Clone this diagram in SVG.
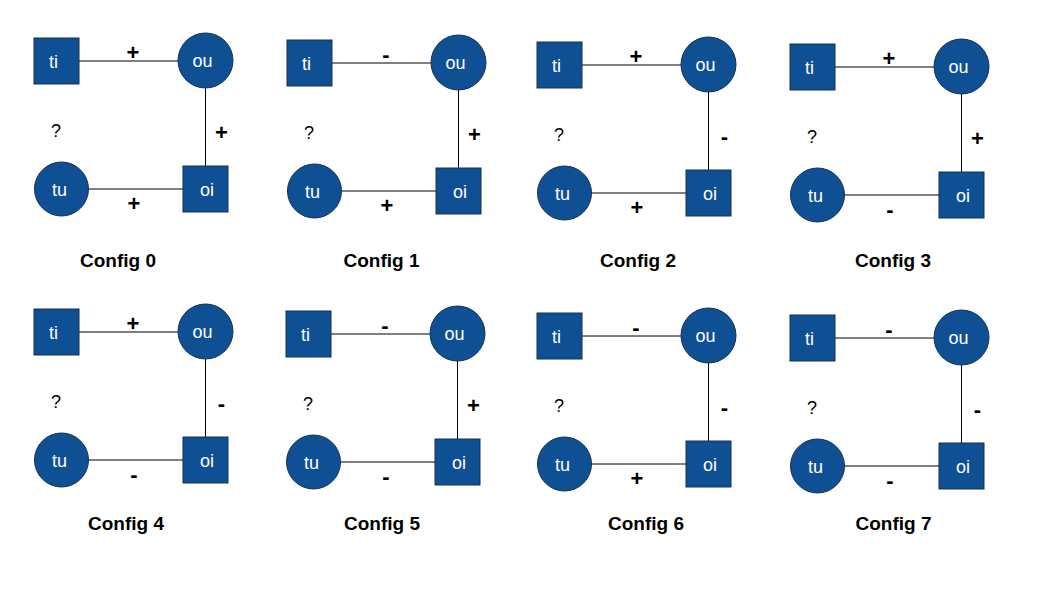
<svg xmlns="http://www.w3.org/2000/svg" width="1047" height="590" viewBox="0 0 1047 590">
<style>
.node{fill:#0f5095;stroke:#14304f;stroke-width:1}
.lbl{font-family:"Liberation Sans",Arial,sans-serif;font-size:18px;fill:#ffffff;text-anchor:middle}
.edge{stroke:#000000;stroke-width:1;fill:none}
.sign{font-family:"Liberation Sans",Arial,sans-serif;font-size:22px;font-weight:bold;fill:#000000;text-anchor:middle}
.q{font-family:"Liberation Sans",Arial,sans-serif;font-size:18px;fill:#000000;text-anchor:middle}
.title{font-family:"Liberation Sans",Arial,sans-serif;font-size:19px;font-weight:bold;fill:#000000;text-anchor:middle}
</style>
<defs>
<g id="edges">
<line class="edge" x1="45" y1="23" x2="144" y2="23"/>
<line class="edge" x1="171.5" y1="50" x2="171.5" y2="128"/>
<line class="edge" x1="54.5" y1="151" x2="149" y2="151"/>
</g>
</defs>
<rect width="1047" height="590" fill="#ffffff"/>

<!-- Config 0 -->
<g id="config0" transform="translate(34,38)">
<g id="c0-connectors"><use href="#edges"/>
<text class="sign" x="99" y="22">+</text><text class="sign" x="187.5" y="102">+</text><text class="sign" x="100" y="173">+</text></g>
<g id="c0-ti"><rect class="node" x="0" y="0" width="45" height="46"/><text class="lbl" x="19.5" y="29.5">ti</text></g>
<g id="c0-ou"><circle class="node" cx="171.5" cy="22.5" r="27.5"/><text class="lbl" x="168.5" y="29">ou</text></g>
<g id="c0-tu"><circle class="node" cx="27.5" cy="151" r="27"/><text class="lbl" x="25.5" y="157.5">tu</text></g>
<g id="c0-oi"><rect class="node" x="149" y="128" width="45" height="46"/><text class="lbl" x="173" y="157.5">oi</text></g>
<text class="q" x="22" y="98.5">?</text>
</g>

<!-- Config 1 -->
<g id="config1" transform="translate(287,40)">
<g id="c1-connectors"><use href="#edges"/>
<text class="sign" x="99" y="22">-</text><text class="sign" x="187.5" y="102">+</text><text class="sign" x="100" y="173">+</text></g>
<g id="c1-ti"><rect class="node" x="0" y="0" width="45" height="46"/><text class="lbl" x="19.5" y="29.5">ti</text></g>
<g id="c1-ou"><circle class="node" cx="171.5" cy="22.5" r="27.5"/><text class="lbl" x="168.5" y="29">ou</text></g>
<g id="c1-tu"><circle class="node" cx="27.5" cy="151" r="27"/><text class="lbl" x="25.5" y="157.5">tu</text></g>
<g id="c1-oi"><rect class="node" x="149" y="128" width="45" height="46"/><text class="lbl" x="173" y="157.5">oi</text></g>
<text class="q" x="22" y="98.5">?</text>
</g>

<!-- Config 2 -->
<g id="config2" transform="translate(537,42)">
<g id="c2-connectors"><use href="#edges"/>
<text class="sign" x="99" y="22">+</text><text class="sign" x="187.5" y="102">-</text><text class="sign" x="100" y="173">+</text></g>
<g id="c2-ti"><rect class="node" x="0" y="0" width="45" height="46"/><text class="lbl" x="19.5" y="29.5">ti</text></g>
<g id="c2-ou"><circle class="node" cx="171.5" cy="22.5" r="27.5"/><text class="lbl" x="168.5" y="29">ou</text></g>
<g id="c2-tu"><circle class="node" cx="27.5" cy="151" r="27"/><text class="lbl" x="25.5" y="157.5">tu</text></g>
<g id="c2-oi"><rect class="node" x="149" y="128" width="45" height="46"/><text class="lbl" x="173" y="157.5">oi</text></g>
<text class="q" x="22" y="98.5">?</text>
</g>

<!-- Config 3 -->
<g id="config3" transform="translate(790,44)">
<g id="c3-connectors"><use href="#edges"/>
<text class="sign" x="99" y="22">+</text><text class="sign" x="187.5" y="102">+</text><text class="sign" x="100" y="173">-</text></g>
<g id="c3-ti"><rect class="node" x="0" y="0" width="45" height="46"/><text class="lbl" x="19.5" y="29.5">ti</text></g>
<g id="c3-ou"><circle class="node" cx="171.5" cy="22.5" r="27.5"/><text class="lbl" x="168.5" y="29">ou</text></g>
<g id="c3-tu"><circle class="node" cx="27.5" cy="151" r="27"/><text class="lbl" x="25.5" y="157.5">tu</text></g>
<g id="c3-oi"><rect class="node" x="149" y="128" width="45" height="46"/><text class="lbl" x="173" y="157.5">oi</text></g>
<text class="q" x="22" y="98.5">?</text>
</g>

<!-- Config 4 -->
<g id="config4" transform="translate(34,309)">
<g id="c4-connectors"><use href="#edges"/>
<text class="sign" x="99" y="22">+</text><text class="sign" x="187.5" y="102">-</text><text class="sign" x="100" y="173">-</text></g>
<g id="c4-ti"><rect class="node" x="0" y="0" width="45" height="46"/><text class="lbl" x="19.5" y="29.5">ti</text></g>
<g id="c4-ou"><circle class="node" cx="171.5" cy="22.5" r="27.5"/><text class="lbl" x="168.5" y="29">ou</text></g>
<g id="c4-tu"><circle class="node" cx="27.5" cy="151" r="27"/><text class="lbl" x="25.5" y="157.5">tu</text></g>
<g id="c4-oi"><rect class="node" x="149" y="128" width="45" height="46"/><text class="lbl" x="173" y="157.5">oi</text></g>
<text class="q" x="22" y="98.5">?</text>
</g>

<!-- Config 5 -->
<g id="config5" transform="translate(286,311)">
<g id="c5-connectors"><use href="#edges"/>
<text class="sign" x="99" y="22">-</text><text class="sign" x="187.5" y="102">+</text><text class="sign" x="100" y="173">-</text></g>
<g id="c5-ti"><rect class="node" x="0" y="0" width="45" height="46"/><text class="lbl" x="19.5" y="29.5">ti</text></g>
<g id="c5-ou"><circle class="node" cx="171.5" cy="22.5" r="27.5"/><text class="lbl" x="168.5" y="29">ou</text></g>
<g id="c5-tu"><circle class="node" cx="27.5" cy="151" r="27"/><text class="lbl" x="25.5" y="157.5">tu</text></g>
<g id="c5-oi"><rect class="node" x="149" y="128" width="45" height="46"/><text class="lbl" x="173" y="157.5">oi</text></g>
<text class="q" x="22" y="98.5">?</text>
</g>

<!-- Config 6 -->
<g id="config6" transform="translate(537,313)">
<g id="c6-connectors"><use href="#edges"/>
<text class="sign" x="99" y="22">-</text><text class="sign" x="187.5" y="102">-</text><text class="sign" x="100" y="173">+</text></g>
<g id="c6-ti"><rect class="node" x="0" y="0" width="45" height="46"/><text class="lbl" x="19.5" y="29.5">ti</text></g>
<g id="c6-ou"><circle class="node" cx="171.5" cy="22.5" r="27.5"/><text class="lbl" x="168.5" y="29">ou</text></g>
<g id="c6-tu"><circle class="node" cx="27.5" cy="151" r="27"/><text class="lbl" x="25.5" y="157.5">tu</text></g>
<g id="c6-oi"><rect class="node" x="149" y="128" width="45" height="46"/><text class="lbl" x="173" y="157.5">oi</text></g>
<text class="q" x="22" y="98.5">?</text>
</g>

<!-- Config 7 -->
<g id="config7" transform="translate(790,315)">
<g id="c7-connectors"><use href="#edges"/>
<text class="sign" x="99" y="22">-</text><text class="sign" x="187.5" y="102">-</text><text class="sign" x="100" y="173">-</text></g>
<g id="c7-ti"><rect class="node" x="0" y="0" width="45" height="46"/><text class="lbl" x="19.5" y="29.5">ti</text></g>
<g id="c7-ou"><circle class="node" cx="171.5" cy="22.5" r="27.5"/><text class="lbl" x="168.5" y="29">ou</text></g>
<g id="c7-tu"><circle class="node" cx="27.5" cy="151" r="27"/><text class="lbl" x="25.5" y="157.5">tu</text></g>
<g id="c7-oi"><rect class="node" x="149" y="128" width="45" height="46"/><text class="lbl" x="173" y="157.5">oi</text></g>
<text class="q" x="22" y="98.5">?</text>
</g>

<g id="titles">
<text class="title" x="118" y="266.5">Config 0</text>
<text class="title" x="381.5" y="266.5">Config 1</text>
<text class="title" x="638" y="266.5">Config 2</text>
<text class="title" x="893" y="266.5">Config 3</text>
<text class="title" x="126" y="530">Config 4</text>
<text class="title" x="382" y="530">Config 5</text>
<text class="title" x="646" y="530">Config 6</text>
<text class="title" x="893.5" y="530">Config 7</text>
</g>
</svg>
